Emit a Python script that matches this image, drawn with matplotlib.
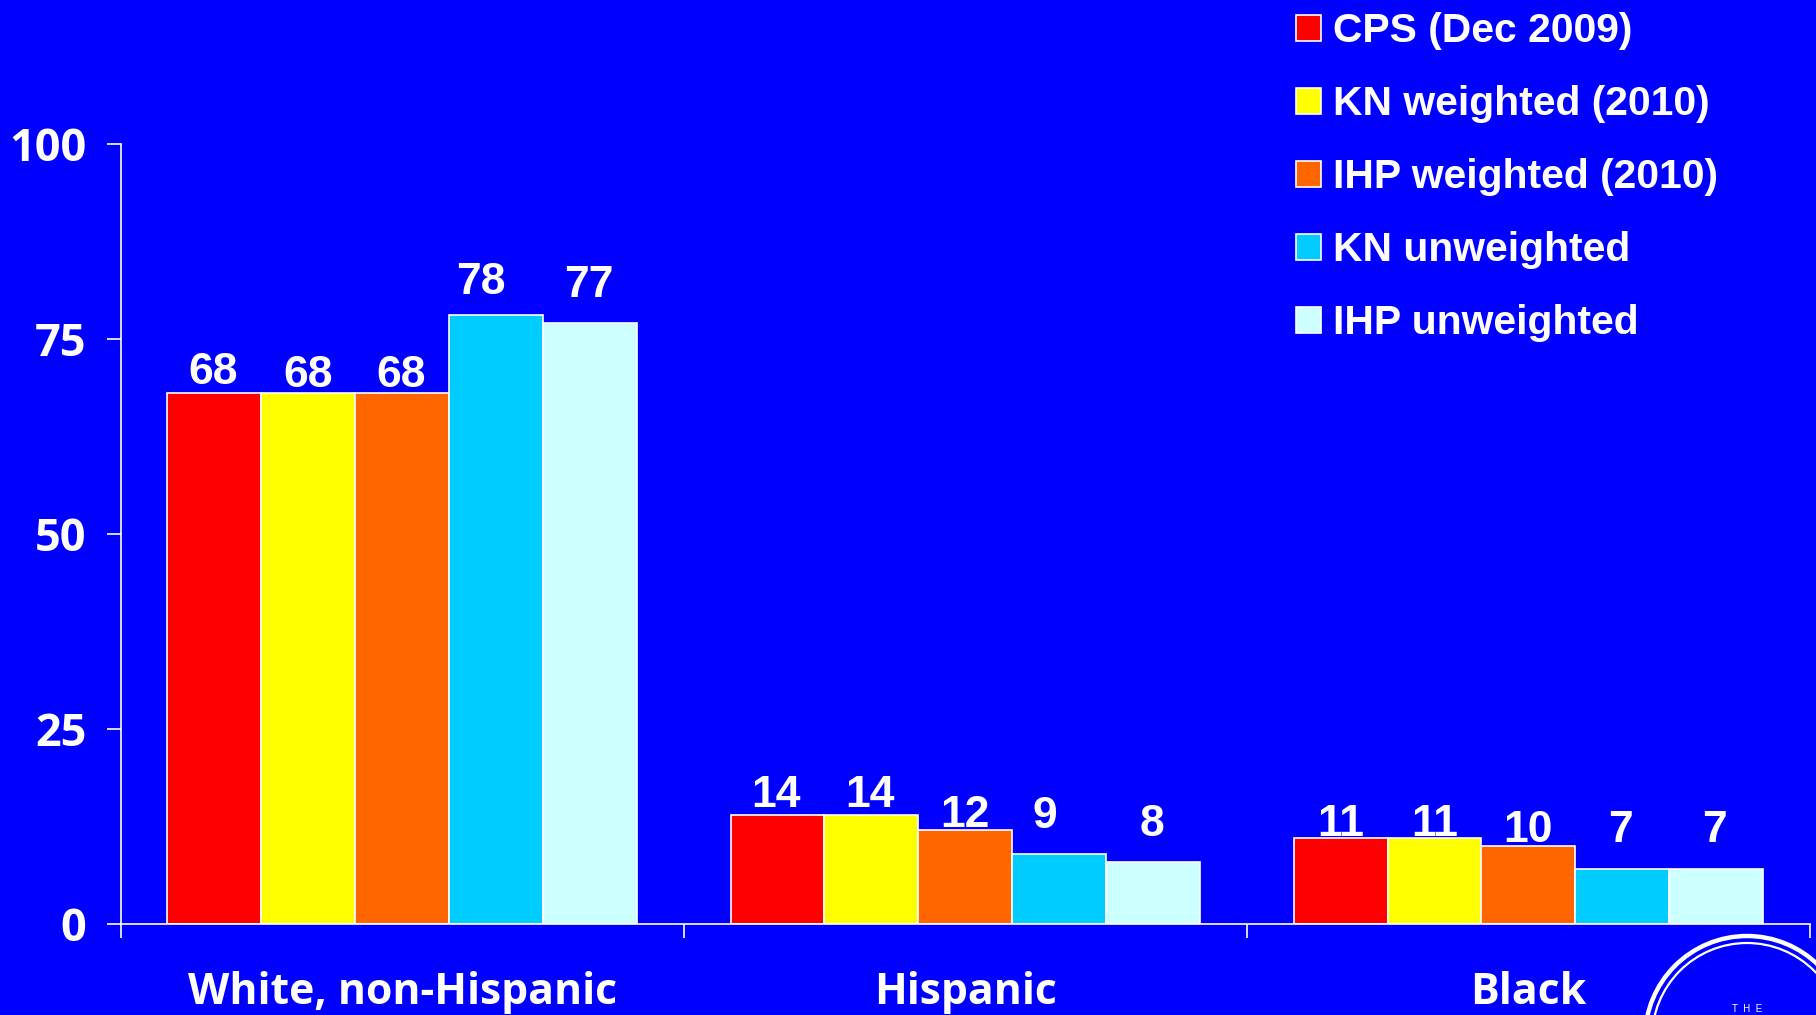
import matplotlib
matplotlib.use('agg')
import matplotlib.pyplot as plt
from matplotlib.patches import Circle
import numpy as np

categories = ['White, non-Hispanic', 'Hispanic', 'Black']
cps = [68, 14, 11]
kn_weighted = [68, 14, 11]
ihp_weighted = [68, 12, 10]
kn_unweighted = [78, 9, 7]
ihp_unweighted = [77, 8, 7]
y_ticks = [0, 25, 50, 75, 100]

series_names = ['CPS (Dec 2009)', 'KN weighted (2010)', 'IHP weighted (2010)',
                'KN unweighted', 'IHP unweighted']
series_values = [cps, kn_weighted, ihp_weighted, kn_unweighted, ihp_unweighted]
colors = ['#ff0000', '#ffff00', '#ff6600', '#00ccff', '#ccffff']

# hand placed labels in the original: offset from the top of each bar, in points
label_dx = [[-1, -1, 0], [0, -1, 0], [-1, 0, 0], [-11, -10, -1], [-1, -1, -1]]
label_dy = [[15, 13.5, 10], [12.5, 13.5, 10], [12.5, 11, 11], [23.5, 26.5, 28], [27, 27, 28]]

BLUE = '#0000ff'
W, H = 1816, 1015
LABEL_FONT = 'Open Sans'
LEGEND_FONT = 'Liberation Sans'

fig = plt.figure(figsize=(W / 100, H / 100), dpi=100, facecolor=BLUE)
ax = fig.add_axes([120.5 / W, 1 - 924 / H, (1810 - 120.5) / W, (924 - 143.5) / H],
                  facecolor=BLUE)

bar_w = 1 / 6
x = np.arange(len(categories))
for i, (name, vals, col) in enumerate(zip(series_names, series_values, colors)):
    pos = x + (i - 2) * bar_w
    ax.bar(pos, vals, bar_w, color=col, edgecolor='white', linewidth=1.2, label=name)
    for j, (p, v) in enumerate(zip(pos, vals)):
        ax.annotate(str(v), (p, v), xytext=(label_dx[i][j], label_dy[i][j]),
                    textcoords='offset points', ha='center', va='center',
                    color='white', fontsize=32, fontweight='bold', family=LEGEND_FONT)

ax.set_xlim(-0.5, 2.5)
ax.set_ylim(0, 100)
for s in ['top', 'right']:
    ax.spines[s].set_visible(False)
for s in ['left', 'bottom']:
    ax.spines[s].set_color('white')
    ax.spines[s].set_linewidth(1.2)

ax.set_yticks(y_ticks)
ax.set_yticklabels([str(t) for t in y_ticks], color='white', fontsize=32.5,
                   fontweight='bold', family=LABEL_FONT)
ax.tick_params(axis='y', length=10, width=1.2, color='white', pad=14.5)

# ticks sit between the groups, the names are centred under them
ax.set_xticks([-0.5, 0.5, 1.5, 2.5])
ax.set_xticklabels([])
ax.tick_params(axis='x', length=10, width=1.2, color='white')
ax.set_xticks(x, minor=True)
ax.set_xticklabels(categories, minor=True, color='white', fontsize=30.8,
                   fontweight='bold', family=LABEL_FONT)
ax.tick_params(axis='x', which='minor', length=0, pad=33.5)

leg = ax.legend(loc='upper left', bbox_to_anchor=(1296 / W, 1 - 12 / H),
                bbox_transform=fig.transFigure, frameon=False, borderpad=0,
                borderaxespad=0, handlelength=0.61, handleheight=0.61,
                handletextpad=0.3, labelspacing=0.86,
                prop={'family': LEGEND_FONT, 'weight': 'bold', 'size': 29.4})
for t in leg.get_texts():
    t.set_color('white')

# logo in the corner, mostly cut off by the edge of the picture
logo = fig.add_axes([0, 0, 1, 1], facecolor='none')
logo.set_xlim(0, W)
logo.set_ylim(H, 0)
logo.axis('off')
logo.add_patch(Circle((1747, 1038), 102, fill=False, edgecolor='white', linewidth=3.2))
logo.add_patch(Circle((1747, 1038), 95, fill=False, edgecolor='white', linewidth=1.6))
logo.text(1747, 1004, 'T  H  E', color='white', fontsize=7, ha='center', va='top',
          family=LEGEND_FONT)

fig.savefig('out.png', dpi=100, facecolor=BLUE)
